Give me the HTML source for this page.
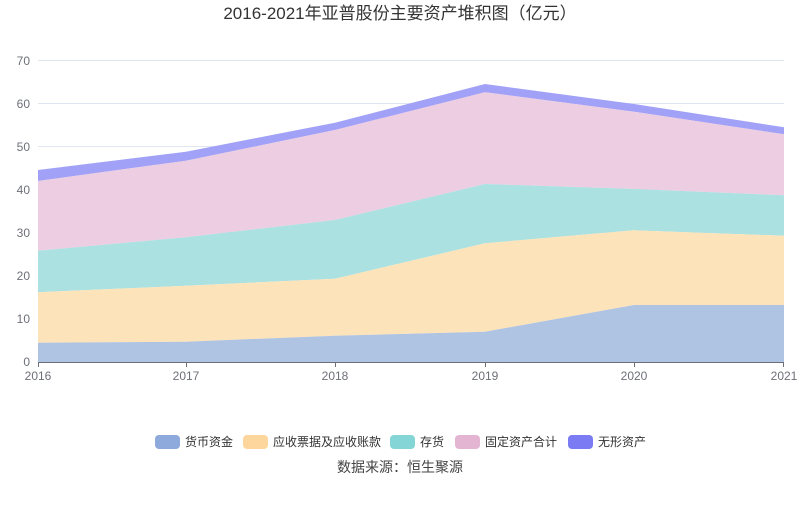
<!DOCTYPE html>
<html><head><meta charset="utf-8"><style>
body{margin:0;background:#fff;width:800px;height:501px;overflow:hidden;font-family:"Liberation Sans","Noto Sans CJK SC",sans-serif;}
</style></head><body>
<svg width="800" height="501" xmlns="http://www.w3.org/2000/svg" font-family="Liberation Sans, Noto Sans CJK SC, sans-serif">
<text x="400" y="19" text-anchor="middle" font-size="17" fill="#333">2016-2021年亚普股份主要资产堆积图（亿元）</text>
<g stroke="#e0e6f1" stroke-width="1">
<line x1="38" x2="784" y1="60.5" y2="60.5"/><line x1="38" x2="784" y1="103.5" y2="103.5"/><line x1="38" x2="784" y1="146.5" y2="146.5"/><line x1="38" x2="784" y1="189.5" y2="189.5"/><line x1="38" x2="784" y1="232.5" y2="232.5"/><line x1="38" x2="784" y1="275.5" y2="275.5"/><line x1="38" x2="784" y1="318.5" y2="318.5"/>
</g>
<g font-size="12" fill="#6e7079" text-anchor="end">
<text x="30" y="65">70</text><text x="30" y="108">60</text><text x="30" y="151">50</text><text x="30" y="194">40</text><text x="30" y="237">30</text><text x="30" y="280">20</text><text x="30" y="323">10</text><text x="30" y="366">0</text>
</g>
<polygon fill="#a1a1f7" points="38,170 186,151.7 335,122.7 485,84 634,104 784,127.3 784,134.3 634,111.7 485,92.3 335,130 186,160.7 38,181"/>
<polygon fill="#edcde2" points="38,181 186,160.7 335,130 485,92.3 634,111.7 784,134.3 784,195.3 634,189 485,184 335,220 186,237.3 38,250.7"/>
<polygon fill="#abe1e1" points="38,250.7 186,237.3 335,220 485,184 634,189 784,195.3 784,235.7 634,230.3 485,243.3 335,278.7 186,285.7 38,292.3"/>
<polygon fill="#fde3b9" points="38,292.3 186,285.7 335,278.7 485,243.3 634,230.3 784,235.7 784,305 634,305 485,331.7 335,335.7 186,341.7 38,342.7"/>
<polygon fill="#afc3e3" points="38,342.7 186,341.7 335,335.7 485,331.7 634,305 784,305 784,362 38,362"/>
<g stroke="#6e7079" stroke-width="1">
<line x1="38" x2="784" y1="362.5" y2="362.5"/>
<line x1="38.5" x2="38.5" y1="362" y2="367"/><line x1="186.5" x2="186.5" y1="362" y2="367"/><line x1="335.5" x2="335.5" y1="362" y2="367"/><line x1="485.5" x2="485.5" y1="362" y2="367"/><line x1="634.5" x2="634.5" y1="362" y2="367"/><line x1="783.5" x2="783.5" y1="362" y2="367"/>
</g>
<g font-size="12" fill="#6e7079" text-anchor="middle">
<text x="38" y="380">2016</text><text x="186" y="380">2017</text><text x="335" y="380">2018</text><text x="485" y="380">2019</text><text x="634" y="380">2020</text><text x="784" y="380">2021</text>
</g>
<g font-size="12" fill="#333">
<rect x="155" y="435" width="25" height="14" rx="4" fill="#8ea9db"/><text x="185" y="446">货币资金</text>
<rect x="243" y="435" width="25" height="14" rx="4" fill="#fdd69e"/><text x="273" y="446">应收票据及应收账款</text>
<rect x="390" y="435" width="25" height="14" rx="4" fill="#84d6d6"/><text x="420" y="446">存货</text>
<rect x="455" y="435" width="25" height="14" rx="4" fill="#e4b5d3"/><text x="485" y="446">固定资产合计</text>
<rect x="568" y="435" width="25" height="14" rx="4" fill="#7b7bf4"/><text x="598" y="446">无形资产</text>
</g>
<text x="400" y="472" text-anchor="middle" font-size="14" fill="#444">数据来源：恒生聚源</text>
</svg>
</body></html>
